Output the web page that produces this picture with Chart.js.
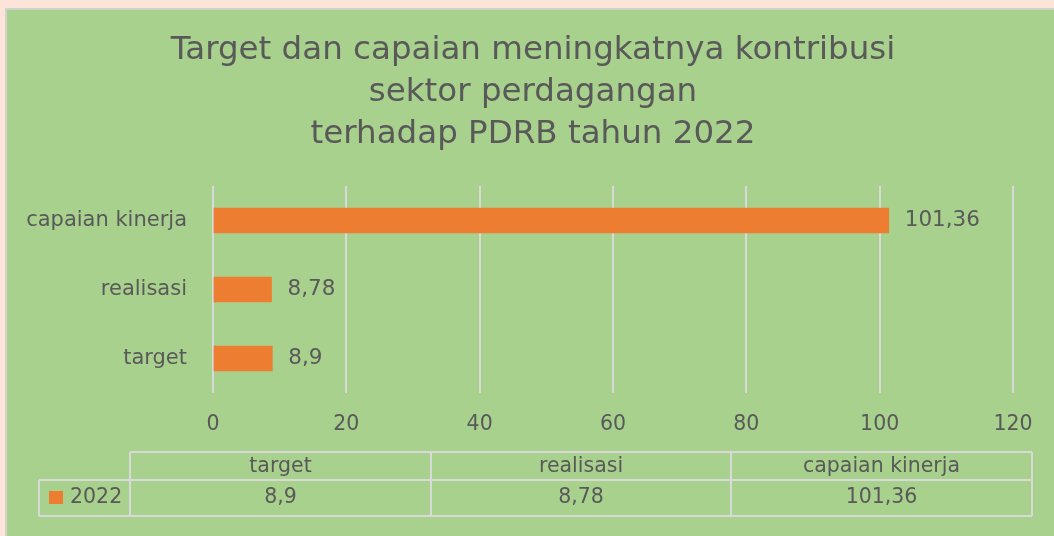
<!DOCTYPE html>
<html>
<head>
<meta charset="utf-8">
<script src="https://cdn.jsdelivr.net/npm/chart.js@4/dist/chart.umd.min.js"></script>
<style>
  html, body { margin: 0; padding: 0; background: #fde4d8; overflow: hidden; }
  #box {
    position: absolute; left: 5px; top: 8px;
    width: 1047px; height: 526px;
    background: #a9d18e;
    border-top: 2px solid #cfd3cb; border-left: 2px solid #cfd3cb;
  }
  #chart { display: block; }
</style>
</head>
<body>
<div id="box"><canvas id="chart" width="1047" height="526"></canvas></div>
<script>
const categories = ['target', 'realisasi', 'capaian kinerja']
const seriesName = '2022'
const values2022 = [8.9, 8.78, 101.36]
const titleLines = ['Target dan capaian meningkatnya kontribusi', 'sektor perdagangan', 'terhadap PDRB tahun 2022']

const textColor = '#595959'
const barColor = '#ed7d31'
const lineColor = '#d9d9d9'
const fontFamily = "'DejaVu Sans', sans-serif"

function formatValue(v) {
  return String(v).replace('.', ',')
}

// value labels next to each bar
const barLabels = {
  id: 'barLabels',
  afterDatasetsDraw(chart) {
    const ctx = chart.ctx
    const meta = chart.getDatasetMeta(0)
    ctx.save()
    ctx.font = '21.5px ' + fontFamily
    ctx.fillStyle = textColor
    ctx.textAlign = 'left'
    ctx.textBaseline = 'middle'
    meta.data.forEach((bar, i) => {
      ctx.fillText(formatValue(chart.data.datasets[0].data[i]), bar.x + 16, bar.y)
    })
    ctx.restore()
  }
}

// data table under the axis, like the spreadsheet one
const dataTable = {
  id: 'dataTable',
  afterDraw(chart) {
    const ctx = chart.ctx
    const cols = [123, 424, 724, 1025]
    const legendLeft = 32
    const top = 442, mid = 470, bottom = 506
    ctx.save()
    ctx.strokeStyle = lineColor
    ctx.lineWidth = 2
    ctx.beginPath()
    ctx.moveTo(cols[0], top); ctx.lineTo(cols[3], top)
    ctx.moveTo(legendLeft, mid); ctx.lineTo(cols[3], mid)
    ctx.moveTo(legendLeft, bottom); ctx.lineTo(cols[3], bottom)
    ctx.moveTo(legendLeft, mid); ctx.lineTo(legendLeft, bottom)
    cols.forEach(x => { ctx.moveTo(x, top); ctx.lineTo(x, bottom) })
    ctx.stroke()

    ctx.fillStyle = textColor
    ctx.font = '20.5px ' + fontFamily
    ctx.textAlign = 'center'
    ctx.textBaseline = 'middle'
    const data = chart.data.datasets[0].data
    chart.data.labels.forEach((label, i) => {
      const cx = (cols[i] + cols[i + 1]) / 2
      ctx.fillText(label, cx, (top + mid) / 2 + 1)
      ctx.fillText(formatValue(data[i]), cx, (mid + bottom) / 2)
    })
    ctx.fillStyle = chart.data.datasets[0].backgroundColor
    ctx.fillRect(42, 481, 14, 13)
    ctx.fillStyle = textColor
    ctx.textAlign = 'left'
    ctx.fillText(chart.data.datasets[0].label, 63, (mid + bottom) / 2)
    ctx.restore()
  }
}

const config = {
  type: 'bar',
  data: {
    labels: categories,
    datasets: [{
      label: seriesName,
      data: values2022,
      backgroundColor: barColor,
      barThickness: 25
    }]
  },
  options: {
    indexAxis: 'y',
    responsive: false,
    animation: false,
    layout: { padding: { left: 10, right: 5, top: 0, bottom: 83 } },
    plugins: {
      legend: { display: false },
      tooltip: { enabled: false },
      title: {
        display: true,
        text: titleLines,
        color: textColor,
        font: { family: fontFamily, size: 32.5, weight: 'normal', lineHeight: '42px' },
        padding: { top: 20, bottom: 30 }
      }
    },
    scales: {
      x: {
        min: 0,
        max: 120,
        ticks: { stepSize: 20, color: textColor, padding: 19, font: { family: fontFamily, size: 20.5 } },
        grid: { color: lineColor, lineWidth: 2, drawTicks: false },
        border: { display: false },
        afterFit(scale) { scale.height = 60 }
      },
      y: {
        reverse: true,
        ticks: { color: textColor, padding: 26, font: { family: fontFamily, size: 21 } },
        grid: { display: false, drawTicks: false },
        border: { display: false },
        afterFit(scale) { scale.width = 196 }
      },
      // empty right-hand axis, only keeps the right margin so the title sits centred
      yRight: {
        type: 'category',
        position: 'right',
        ticks: { display: false },
        grid: { display: false, drawTicks: false },
        border: { display: false },
        afterFit(scale) { scale.width = 36 }
      }
    }
  },
  plugins: [barLabels, dataTable]
}

const myChart = new Chart(document.getElementById('chart'), config)
</script>
</body>
</html>
